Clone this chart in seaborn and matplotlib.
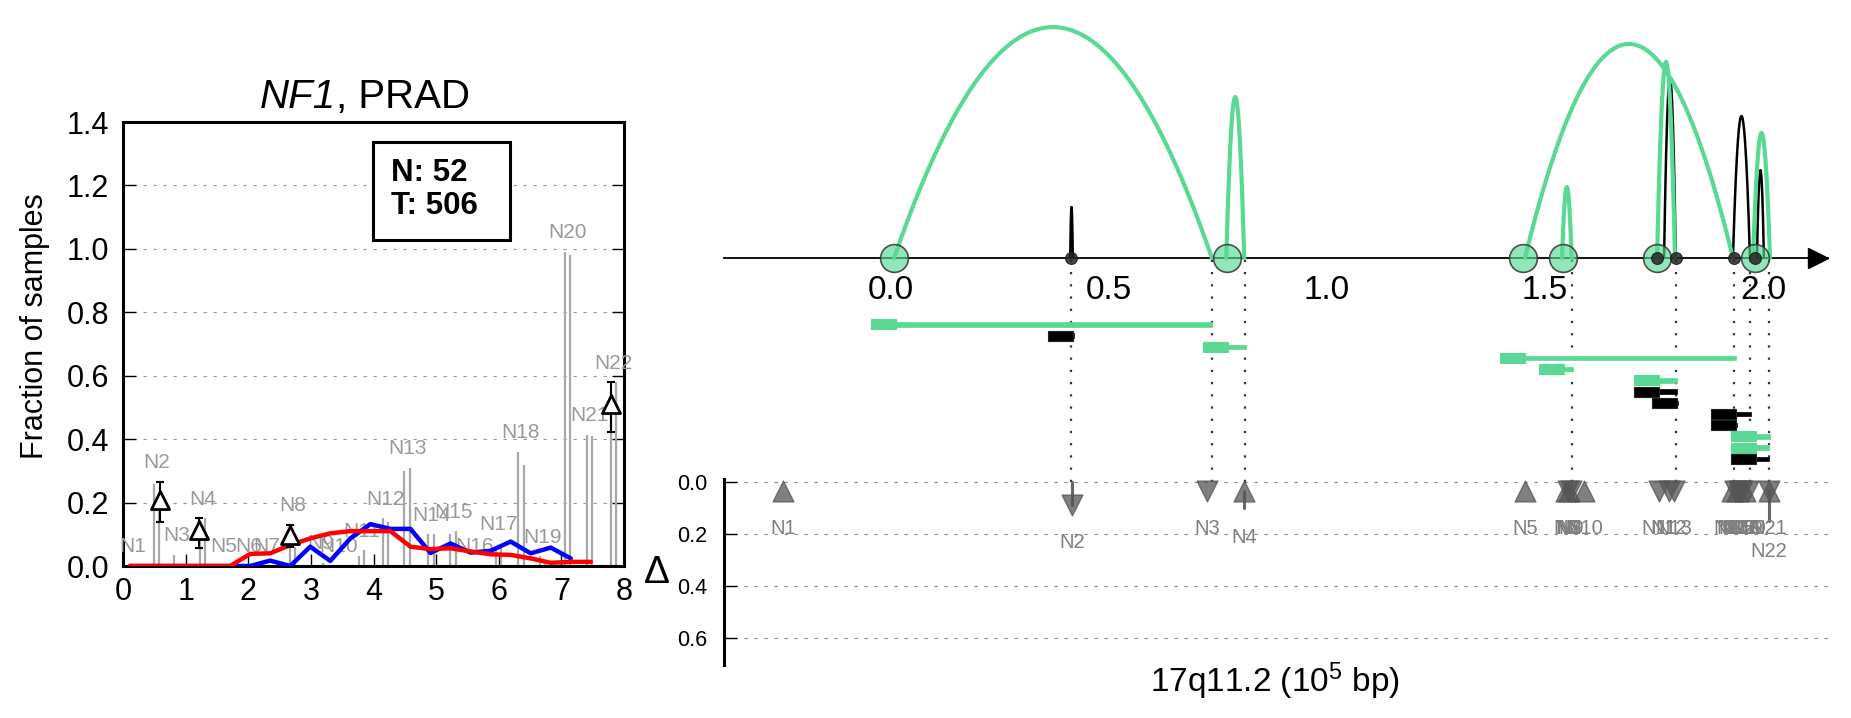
import numpy as np
import pandas as pd
import matplotlib
matplotlib.use("Agg")
import matplotlib.pyplot as plt
import matplotlib.transforms as mtrans
from matplotlib.patches import Rectangle
import seaborn as sns

# ---------------------------------------------------------------- data
gene = "NF1"
cancer = "PRAD"
n_normal = 52
n_tumor = 506

# left panel: per-breakpoint fractions (normal / tumour)
left_names = ["N%d" % i for i in range(1, 23)]
left_pos = [0.16, 0.535, 0.86, 1.265, 1.60, 2.00, 2.30, 2.71, 3.15, 3.45, 3.81,
            4.19, 4.535, 4.92, 5.27, 5.62, 6.00, 6.355, 6.70, 7.095, 7.45, 7.83]
normal_frac = [0.0, 0.26, 0.035, 0.14, 0.0, 0.0, 0.0, 0.07, 0.0, 0.0, 0.03,
               0.15, 0.30, 0.10, 0.10, 0.0, 0.06, 0.36, 0.03, 0.99, 0.413, 0.55]
tumor_frac = [0.0, 0.22, 0.0, 0.15, 0.0, 0.0, 0.0, 0.06, 0.01, 0.0, 0.05,
              0.14, 0.31, 0.10, 0.11, 0.0, 0.07, 0.32, 0.02, 0.98, 0.41, 0.58]

# left panel: delta triangles with error bars
tri_names = ["N2", "N4", "N8", "N22"]
tri_x = [0.59, 1.22, 2.67, 7.79]
tri_y = [0.208, 0.113, 0.098, 0.511]
tri_lo = [0.14, 0.056, 0.06, 0.424]
tri_hi = [0.265, 0.15, 0.13, 0.58]

# left panel: curves
curve_x = [0.11, 0.43, 0.75, 1.07, 1.39, 1.71, 2.03, 2.35, 2.67, 2.99, 3.31, 3.63,
           3.95, 4.27, 4.59, 4.91, 5.23, 5.55, 5.87, 6.19, 6.51, 6.83, 7.15, 7.47]
red_vals = [0, 0, 0, 0, 0, 0, 0.038, 0.040, 0.066, 0.087, 0.103, 0.110,
            0.110, 0.110, 0.061, 0.053, 0.056, 0.046, 0.037, 0.035, 0.024, 0.010, 0.013, 0.013]
blue_vals = [0, 0, 0, 0, 0, 0, 0.0, 0.017, 0.0, 0.061, 0.016, 0.087,
             0.132, 0.117, 0.117, 0.041, 0.071, 0.042, 0.048, 0.077, 0.040, 0.058, 0.024]

# right panel: arcs (x in 1e5 bp)
arc_start = [0.007, 0.769, 1.454, 1.539, 1.757, 1.977, 0.411, 1.773, 1.931, 1.986]
arc_end = [0.736, 0.810, 1.931, 1.561, 1.798, 2.016, 0.417, 1.800, 1.970, 2.002]
arc_height = [0.888, 0.619, 0.823, 0.273, 0.754, 0.481, 0.196, 0.692, 0.546, 0.338]
arc_kind = ["g", "g", "g", "g", "g", "g", "k", "k", "k", "k"]

circle_pos = [0.007, 0.770, 1.450, 1.541, 1.757, 1.982]
dot_pos = [0.413, 1.757, 1.800, 1.933, 1.982]
bp_pos = [0.413, 0.737, 0.812, 1.561, 1.800, 1.933, 1.970, 2.013]

# right panel: segments (one row each, top to bottom)
bar_start = [-0.046, 0.360, 0.716, 1.397, 1.486, 1.704, 1.704, 1.746, 1.881, 1.881, 1.927, 1.927, 1.927]
bar_end = [0.737, 0.420, 0.814, 1.938, 1.564, 1.803, 1.803, 1.805, 1.972, 1.940, 2.016, 2.013, 2.013]
bar_kind = ["g", "k", "g", "g", "g", "g", "k", "k", "k", "k", "g", "g", "k"]

# right panel: delta markers
delta_names = ["N%d" % i for i in range(1, 23)]
delta_pos = [-0.248, 0.415, 0.725, 0.810, 1.454, 1.548, 1.552, 1.556, 1.560, 1.590,
             1.762, 1.784, 1.795, 1.928, 1.935, 1.940, 1.946, 1.952, 1.958, 1.966, 2.013, 2.013]
delta_val = [0.035, 0.09, 0.035, 0.035, 0.035, 0.035, 0.035, 0.035, 0.035, 0.035,
             0.035, 0.035, 0.035, 0.035, 0.035, 0.035, 0.035, 0.035, 0.035, 0.035, 0.035, 0.035]
delta_dir = ["up", "down", "down", "up", "up", "up", "down", "up", "down", "up",
             "down", "down", "down", "up", "down", "up", "down", "down", "up", "down", "down", "up"]
err_names = ["N2", "N4", "N22"]
err_lo = [0.0, 0.035, 0.035]
err_hi = [0.09, 0.10, 0.153]

# ---------------------------------------------------------------- style
sns.set_style("white")
plt.rcParams["font.family"] = ["Liberation Sans", "DejaVu Sans"]
plt.rcParams["mathtext.fontset"] = "custom"
plt.rcParams["mathtext.rm"] = "Liberation Sans"
plt.rcParams["mathtext.it"] = "Liberation Sans:italic"
plt.rcParams["mathtext.bf"] = "Liberation Sans:bold"
for key in ["text.color", "axes.labelcolor", "xtick.color", "ytick.color", "axes.edgecolor"]:
    plt.rcParams[key] = "black"

GREEN = "#5ad994"
W, H = 1851, 718
fig = plt.figure(figsize=(W / 100, H / 100), dpi=100)

# ================================================================ left panel
ax1 = fig.add_axes([123 / W, 1 - 566 / H, (624 - 123) / W, (566 - 122) / H])
ax1.set_xlim(0, 8)
ax1.set_ylim(0, 1.4)

off = 0.043
lp = np.array(left_pos)
ax1.vlines(lp - off, 0, normal_frac, color="#a8a8a8", lw=1.6, zorder=2)
ax1.vlines(lp + off, 0, tumor_frac, color="#a8a8a8", lw=1.6, zorder=2)

sns.lineplot(x=curve_x[:len(blue_vals)], y=blue_vals, color="#0000ff", lw=3.2,
             ax=ax1, zorder=4, errorbar=None)
sns.lineplot(x=curve_x, y=red_vals, color="#ff0000", lw=3.2, ax=ax1, zorder=5,
             errorbar=None)

ty = np.array(tri_y)
ax1.errorbar(tri_x, ty, yerr=[ty - np.array(tri_lo), np.array(tri_hi) - ty], fmt="none",
             ecolor="black", elinewidth=1.5, capsize=3, capthick=1.5, zorder=6)
sns.scatterplot(x=tri_x, y=tri_y, marker="^", s=13 ** 2, color="white",
                edgecolor="black", linewidth=2, ax=ax1, zorder=7)

tri_top = dict(zip(tri_names, tri_hi))
for name, x, a, b in zip(left_names, left_pos, normal_frac, tumor_frac):
    top = max(a, b, tri_top.get(name, 0))
    ax1.text(x, top + 0.06, name, ha="center", va="center", fontsize=15,
             color="#999999", zorder=3)

# N / T count box
ax1.add_patch(Rectangle((0.4985, 0.7347), 0.2735, 0.2207, transform=ax1.transAxes,
                        fc="white", ec="black", lw=2.2, zorder=8))
ax1.text(0.535, 0.8477, "N: %d\nT: %d" % (n_normal, n_tumor), transform=ax1.transAxes,
         ha="left", va="center", fontsize=22.5, fontweight="bold", multialignment="left",
         linespacing=1.12, zorder=9)

ax1.set_xticks(range(0, 9))
ax1.set_yticks(np.arange(0, 1.41, 0.2))
ax1.set_yticklabels(["%.1f" % v for v in np.arange(0, 1.41, 0.2)])
ax1.tick_params(axis="both", direction="in", length=9, width=1, labelsize=22)
ax1.tick_params(axis="y", right=True, left=True, pad=10)
ax1.tick_params(axis="x", bottom=True, top=False, pad=8)
ax1.yaxis.grid(True, linestyle=(0, (3, 6)), color="#999999", lw=0.8)
ax1.xaxis.grid(False)
for sp in ax1.spines.values():
    sp.set_linewidth(2.2)
    sp.set_color("black")
ax1.set_ylabel("Fraction of samples", fontsize=22)
ax1.yaxis.label.set_va("center")
ax1.yaxis.set_label_coords(-0.176, 0.54)

# title: italic gene name + plain cancer type
ax1.text(0.425, 1.0315, gene, transform=ax1.transAxes, ha="right", va="baseline",
         fontsize=29, style="italic")
ax1.text(0.425, 1.0315, ", " + cancer, transform=ax1.transAxes, ha="left", va="baseline",
         fontsize=29)

# ================================================================ right panel
ax2 = fig.add_axes([724 / W, 1 - 665 / H, (1828 - 724) / W, 665 / H])
axis_y = 0.86
ax2.set_xlim(-0.383, 2.149)
ax2.set_ylim(-0.705, axis_y + 258 / 260)

# dotted breakpoint guides
ax2.vlines(bp_pos, 0, axis_y, colors="#333333", linestyles=(0, (1, 4.5)), lw=1.6, zorder=1)

# segments
row0, row_step = 0.605, 0.0431
thick_w, thick_h, thin_h = 0.057, 0.0385, 0.017
for i, (s, e, k) in enumerate(zip(bar_start, bar_end, bar_kind)):
    yrow = row0 - row_step * i
    c = GREEN if k == "g" else "black"
    ax2.barh(yrow, e - s, left=s, height=thin_h, color=c, edgecolor=c, lw=0.5, zorder=2)
    ax2.barh(yrow, thick_w, left=s, height=thick_h, color=c,
             edgecolor=("#222222" if k == "k" else c), lw=0.8, zorder=2.2)

# arcs
t = np.linspace(0, 1, 200)
order = [i for i, k in enumerate(arc_kind) if k == "k"] + [i for i, k in enumerate(arc_kind) if k == "g"]
for i in order:
    s, e, h, k = arc_start[i], arc_end[i], arc_height[i], arc_kind[i]
    xs = s + (e - s) * t
    ys = axis_y + 4 * h * t * (1 - t)
    if k == "g":
        ax2.plot(xs, ys, color=GREEN, lw=3.0, zorder=3.2, solid_capstyle="round")
    else:
        ax2.plot(xs, ys, color="black", lw=1.8, zorder=3.0)

# breakpoint circles and dots
sns.scatterplot(x=circle_pos, y=[axis_y] * len(circle_pos), s=20 ** 2,
                color=(0.35, 0.85, 0.58, 0.65), edgecolor=(0.2, 0.2, 0.2, 0.85),
                linewidth=1.2, ax=ax2, zorder=4)
sns.scatterplot(x=dot_pos, y=[axis_y] * len(dot_pos), s=8.5 ** 2,
                color=(0.15, 0.15, 0.15, 0.85), edgecolor=(0.1, 0.1, 0.1, 0.9),
                linewidth=0.8, ax=ax2, zorder=5)

# delta markers
dp = np.array(delta_pos)
dv = np.array(delta_val)
up = np.array([d == "up" for d in delta_dir])
emap = {n: (lo, hi) for n, lo, hi in zip(err_names, err_lo, err_hi)}
for n, lo, hi in zip(err_names, err_lo, err_hi):
    x = delta_pos[delta_names.index(n)]
    ax2.plot([x, x], [-lo, -hi], color="#666666", lw=2.2, zorder=5)
sns.scatterplot(x=dp[up], y=-dv[up], marker="^", s=15 ** 2, color="#555555",
                alpha=0.75, edgecolor="#555555", linewidth=1, ax=ax2, zorder=6)
sns.scatterplot(x=dp[~up], y=-dv[~up], marker="v", s=15 ** 2, color="#555555",
                alpha=0.75, edgecolor="#555555", linewidth=1, ax=ax2, zorder=6)
for n, x, v in zip(delta_names, delta_pos, delta_val):
    ly = v + 0.145
    if n in emap:
        ly = max(ly, emap[n][1] + 0.115)
    ax2.text(x, -ly, n, ha="center", va="center", fontsize=14.5, color="#7f7f7f", zorder=6)

# axes cosmetics
for side in ["top", "right"]:
    ax2.spines[side].set_visible(False)
ax2.spines["bottom"].set_position(("data", axis_y))
ax2.spines["bottom"].set_linewidth(1.3)
ax2.spines["left"].set_bounds(-0.705, 0.01)
ax2.spines["left"].set_linewidth(2.2)
ax2.set_xticks([0, 0.5, 1.0, 1.5, 2.0])
ax2.set_xticklabels(["0.0", "0.5", "1.0", "1.5", "2.0"])
ax2.tick_params(axis="x", direction="out", length=7, width=1, labelsize=24, pad=5)
dticks = [0.0, 0.2, 0.4, 0.6]
ax2.set_yticks([-d for d in dticks])
ax2.set_yticklabels(["%.1f" % d for d in dticks])
ax2.tick_params(axis="y", direction="in", length=9, width=1, labelsize=15.5, pad=12, left=True)
ax2.yaxis.grid(True, linestyle=(0, (3, 6)), color="#888888", lw=0.8)
ax2.xaxis.grid(False)
ax2.plot([0.9905], [axis_y], marker=">", ms=15, color="black", clip_on=False,
         transform=mtrans.blended_transform_factory(ax2.transAxes, ax2.transData), zorder=6)

ax2.set_xlabel(r"17q11.2 (10$^{5}$ bp)", fontsize=24)
ax2.xaxis.label.set_va("center")
ax2.xaxis.set_label_coords(0.499, -0.024)
ax2.set_ylabel("Δ", fontsize=28, rotation=0)
ax2.yaxis.label.set_va("center")
ax2.yaxis.label.set_ha("center")
ax2.yaxis.set_label_coords(-0.0607, 0.138)

fig.savefig("out.png", dpi=100)
